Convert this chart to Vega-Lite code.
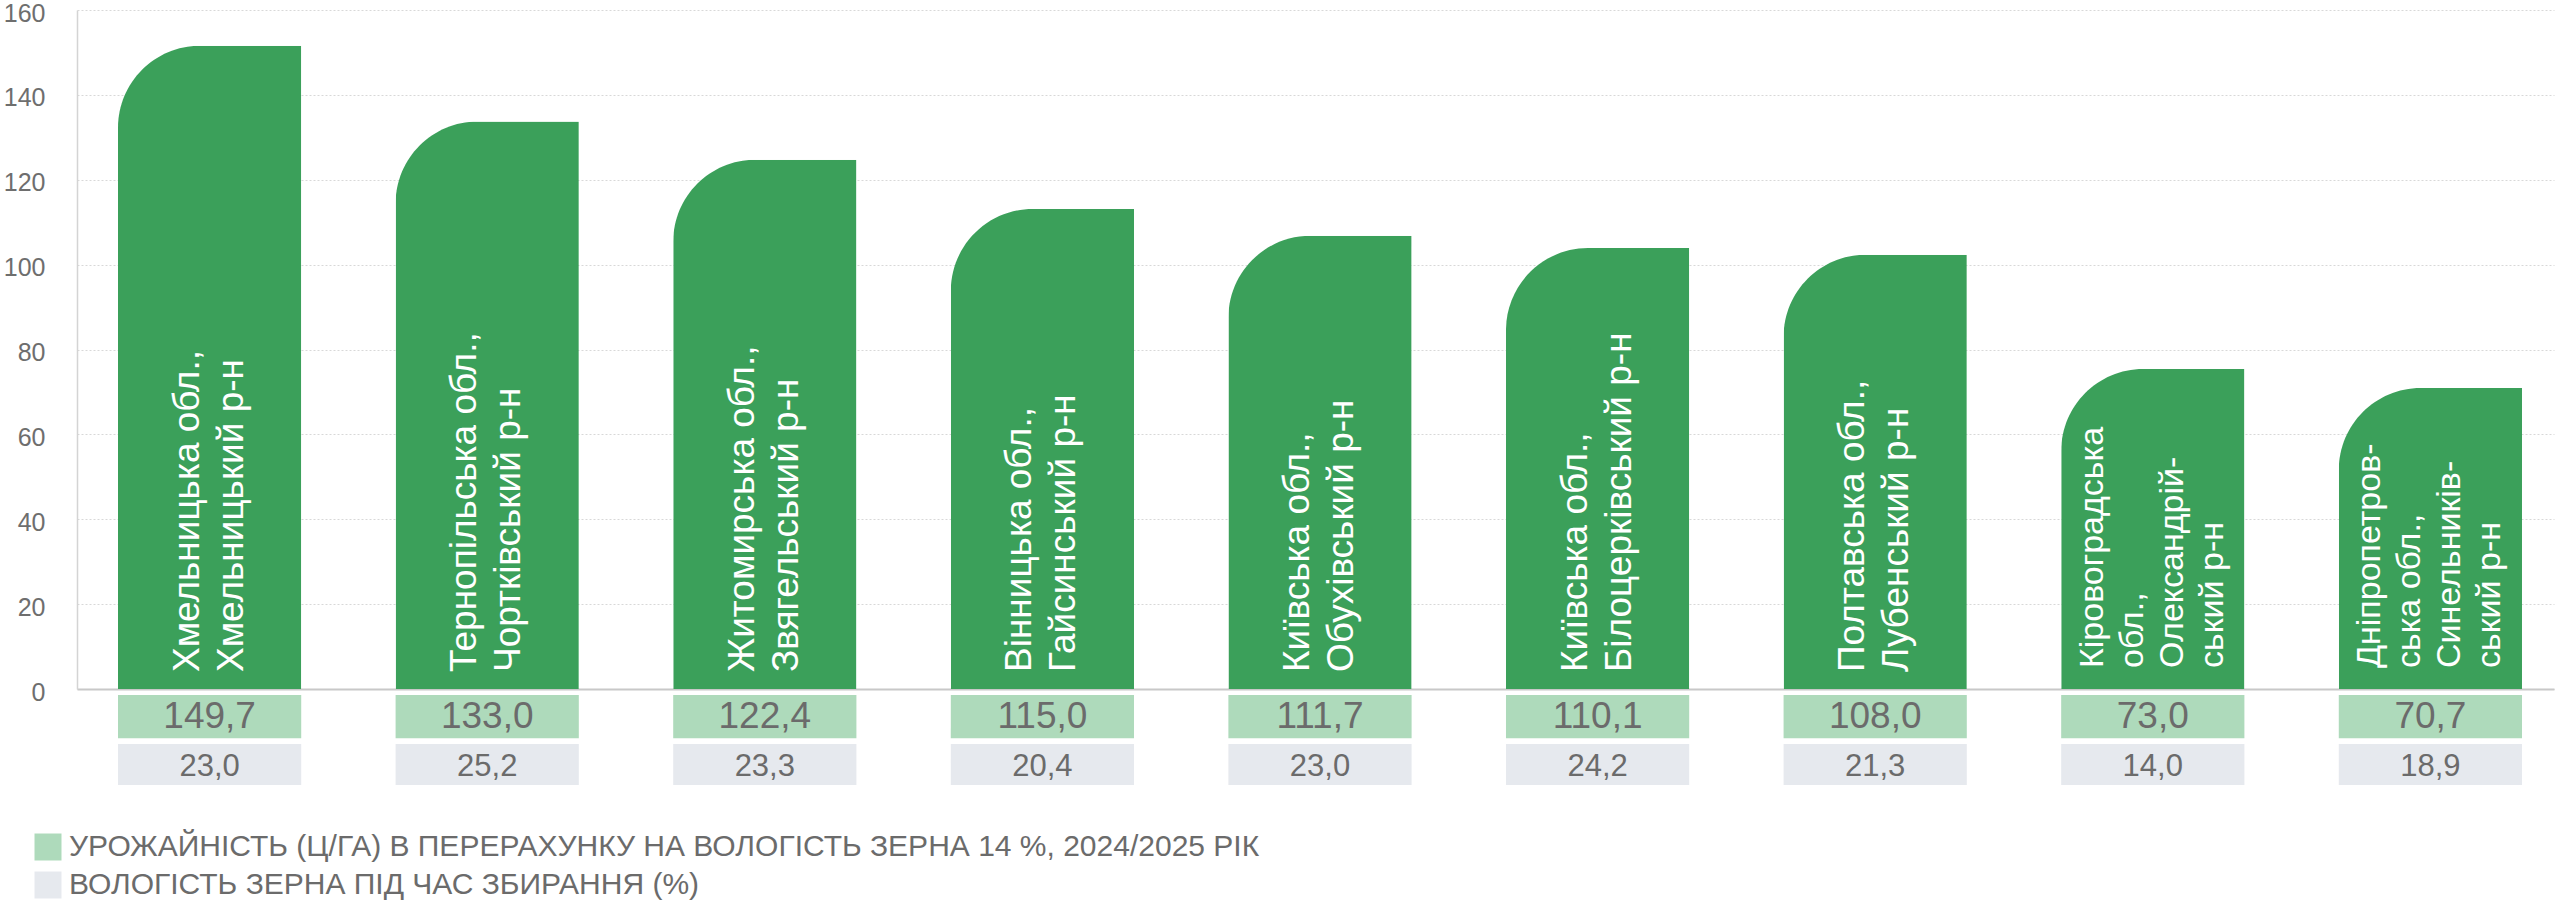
{
  "$schema": "https://vega.github.io/schema/vega-lite/v6.json",
  "width": 2477,
  "height": 679,
  "autosize": {"type": "none"},
  "padding": {"left": 77, "top": 10, "right": 6, "bottom": 214},
  "background": "white",
  "config": {
    "view": {"stroke": null},
    "font": "Liberation Sans",
    "locale": {"number": {"decimal": ",", "thousands": " ", "grouping": [3], "currency": ["", ""]}}
  },
  "data": {
    "values": [
      {"name": "Хмельницька обл., Хмельницький р-н", "label": ["Хмельницька обл.,", "Хмельницький р-н"], "bar": 151.6, "yield": 149.7, "moisture": 23.0},
      {"name": "Тернопільська обл., Чортківський р-н", "label": ["Тернопільська обл.,", "Чортківський р-н"], "bar": 133.7, "yield": 133.0, "moisture": 25.2},
      {"name": "Житомирська обл., Звягельський р-н", "label": ["Житомирська обл.,", "Звягельський р-н"], "bar": 124.7, "yield": 122.4, "moisture": 23.3},
      {"name": "Вінницька обл., Гайсинський р-н", "label": ["Вінницька обл.,", "Гайсинський р-н"], "bar": 113.1, "yield": 115.0, "moisture": 20.4},
      {"name": "Київська обл., Обухівський р-н", "label": ["Київська обл.,", "Обухівський р-н"], "bar": 106.8, "yield": 111.7, "moisture": 23.0},
      {"name": "Київська обл., Білоцерківський р-н", "label": ["Київська обл.,", "Білоцерківський р-н"], "bar": 103.9, "yield": 110.1, "moisture": 24.2},
      {"name": "Полтавська обл., Лубенський р-н", "label": ["Полтавська обл.,", "Лубенський р-н"], "bar": 102.3, "yield": 108.0, "moisture": 21.3},
      {"name": "Кіровоградська обл., Олександрійський р-н", "label": ["Кіровоградська", "обл.,", "Олександрій-", "ський р-н"], "bar": 75.4, "yield": 73.0, "moisture": 14.0},
      {"name": "Дніпропетровська обл., Синельниківський р-н", "label": ["Дніпропетров-", "ська обл.,", "Синельників-", "ський р-н"], "bar": 70.9, "yield": 70.7, "moisture": 18.9}
    ]
  },
  "encoding": {
    "x": {
      "field": "name",
      "type": "nominal",
      "sort": null,
      "scale": {"paddingInner": 0.34, "paddingOuter": 0.1315, "align": 0.5616},
      "axis": {"title": null, "labels": false, "ticks": false, "grid": false, "domainColor": "#c8c8c8", "domainWidth": 2}
    }
  },
  "layer": [
    {
      "mark": {"type": "bar", "color": "#3ba05a", "cornerRadiusTopLeft": 82},
      "encoding": {
        "y": {
          "field": "bar",
          "type": "quantitative",
          "scale": {"domain": [0, 160]},
          "axis": {
            "title": null,
            "values": [0, 20, 40, 60, 80, 100, 120, 140, 160],
            "domainColor": "#d4d4d4",
            "domainWidth": 1.5,
            "gridColor": "#d8d8d8",
            "gridDash": [2, 2],
            "ticks": false,
            "labelFontSize": 25,
            "labelColor": "#6e6e6e",
            "labelPadding": 32,
            "labelOffset": 3
          }
        }
      }
    },
    {
      "mark": {"type": "bar"},
      "encoding": {
        "y": {"datum": -1.41},
        "y2": {"datum": -11.62},
        "color": {
          "datum": "УРОЖАЙНІСТЬ (Ц/ГА) В ПЕРЕРАХУНКУ НА ВОЛОГІСТЬ ЗЕРНА 14 %, 2024/2025 РІК",
          "scale": {
            "domain": ["УРОЖАЙНІСТЬ (Ц/ГА) В ПЕРЕРАХУНКУ НА ВОЛОГІСТЬ ЗЕРНА 14 %, 2024/2025 РІК", "ВОЛОГІСТЬ ЗЕРНА ПІД ЧАС ЗБИРАННЯ (%)"],
            "range": ["#aedabb", "#e6e9ee"]
          },
          "legend": {
            "orient": "none",
            "legendX": -44,
            "legendY": 822,
            "title": null,
            "padding": 0,
            "symbolType": "square",
            "symbolSize": 729,
            "symbolStrokeWidth": 0,
            "labelFontSize": 30,
            "labelColor": "#6b6b6b",
            "labelOffset": 6,
            "labelLimit": 3000,
            "rowPadding": 8
          }
        }
      }
    },
    {
      "mark": {"type": "bar"},
      "encoding": {
        "y": {"datum": -12.96},
        "y2": {"datum": -22.62},
        "color": {"datum": "ВОЛОГІСТЬ ЗЕРНА ПІД ЧАС ЗБИРАННЯ (%)"}
      }
    },
    {
      "mark": {"type": "text", "fontSize": 37, "color": "#6b6b6b", "baseline": "middle"},
      "encoding": {
        "y": {"datum": -6.67},
        "text": {"field": "yield", "type": "quantitative", "format": ".1f"}
      }
    },
    {
      "mark": {"type": "text", "fontSize": 31, "color": "#6b6b6b", "baseline": "middle"},
      "encoding": {
        "y": {"datum": -18.3},
        "text": {"field": "moisture", "type": "quantitative", "format": ".1f"}
      }
    },
    {
      "transform": [{"filter": "length(datum.label) == 2"}],
      "mark": {"type": "text", "angle": 270, "align": "left", "baseline": "middle", "fontSize": 37, "lineHeight": 44, "dx": 17, "dy": -22, "color": "white"},
      "encoding": {
        "y": {"datum": 0},
        "text": {"field": "label", "type": "nominal"}
      }
    },
    {
      "transform": [{"filter": "length(datum.label) > 2"}],
      "mark": {"type": "text", "angle": 270, "align": "left", "baseline": "middle", "fontSize": 34, "lineHeight": 40, "dx": 21, "dy": -60, "color": "white"},
      "encoding": {
        "y": {"datum": 0},
        "text": {"field": "label", "type": "nominal"}
      }
    }
  ]
}
